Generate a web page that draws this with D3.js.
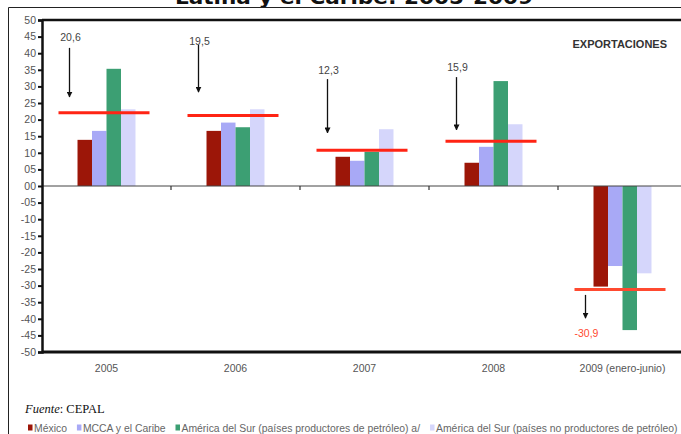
<!DOCTYPE html>
<html>
<head>
<meta charset="utf-8">
<script src="https://cdn.jsdelivr.net/npm/d3@7"></script>
<style>
  html, body { margin: 0; padding: 0; background: #fff; overflow: hidden; }
  svg { display: block; }
</style>
</head>
<body>
<svg id="chart"></svg>
<script>
// categories and series
const years = ["2005", "2006", "2007", "2008", "2009 (enero-junio)"];
const series = [
  "México",
  "MCCA y el Caribe",
  "América del Sur (países productores de petróleo) a/",
  "América del Sur (países no productores de petróleo)"
];
const mexico = [13.9, 16.6, 8.8, 7.0, -30.3];
const mcca = [16.6, 19.1, 7.6, 11.8, -24.1];
const surProd = [35.3, 17.7, 10.3, 31.6, -43.4];
const surNoProd = [23.1, 23.1, 17.1, 18.6, -26.3];

// regional total (red lines) and the arrow annotations
const totalLine = [22.1, 21.2, 10.8, 13.5, -31.2];
const totalLabel = ["20,6", "19,5", "12,3", "15,9", "-30,9"];
const arrowFrom = [41.6, 42.5, 32.2, 32.8, -32.8];
const arrowTo = [26.8, 28.3, 16.0, 16.9, -39.8];
const labelAt = [43.6, 42.4, 33.8, 34.6, -45.4];

const yTicks = d3.range(-50, 51, 5);
const colors = ["#9c1608", "#a8a9f6", "#3c9f73", "#d5d6fb"];

const W = 681, H = 434;
const svg = d3.select("#chart").attr("width", W).attr("height", H);

const plotLeft = 42, plotTop = 20, plotBottom = 352, step = 129;

const x0 = d3.scaleBand()
  .domain(years)
  .range([plotLeft, plotLeft + step * years.length])
  .padding(0);

const x1 = d3.scaleBand()
  .domain(d3.range(series.length))
  .range([0, x0.bandwidth()])
  .paddingInner(0)
  .paddingOuter(2.45);

const y = d3.scaleLinear().domain([-50, 50]).range([plotBottom, plotTop]);

const fmt = (d) => (d < 0 ? "-" : "") + String(Math.abs(d)).padStart(2, "0");

// title (cut at the top of the picture, as in the original)
svg.append("text")
  .attr("x", 175)
  .attr("y", 4)
  .attr("font-family", "DejaVu Sans")
  .attr("font-weight", "bold")
  .attr("font-size", 19)
  .attr("textLength", 358)
  .attr("lengthAdjust", "spacingAndGlyphs")
  .attr("fill", "#111")
  .text("Latina y el Caribe: 2005-2009");

// outer frame
svg.append("path")
  .attr("d", `M8.5,${H} V7.5 H${W + 5}`)
  .attr("fill", "none")
  .attr("stroke", "#222")
  .attr("stroke-width", 1);

// bars
const rows = years.map((yr, i) => ({
  year: yr,
  values: [mexico[i], mcca[i], surProd[i], surNoProd[i]]
}));

svg.append("g")
  .selectAll("g")
  .data(rows)
  .join("g")
  .attr("transform", (d) => `translate(${x0(d.year)},0)`)
  .selectAll("rect")
  .data((d) => d.values.map((v, k) => ({ v, k })))
  .join("rect")
  .attr("x", (d) => x1(d.k))
  .attr("y", (d) => y(Math.max(0, d.v)))
  .attr("width", x1.bandwidth())
  .attr("height", (d) => Math.abs(y(d.v) - y(0)))
  .attr("fill", (d) => colors[d.k]);

// zero line with category separators
svg.append("line")
  .attr("x1", plotLeft).attr("x2", W)
  .attr("y1", y(0)).attr("y2", y(0))
  .attr("stroke", "#444").attr("stroke-width", 1);

svg.append("g")
  .selectAll("line")
  .data(years.slice(1))
  .join("line")
  .attr("x1", (d) => x0(d)).attr("x2", (d) => x0(d))
  .attr("y1", y(0)).attr("y2", y(0) + 4)
  .attr("stroke", "#333").attr("stroke-width", 1.2);

// y axis
const yAxis = svg.append("g")
  .attr("transform", `translate(${plotLeft},0)`)
  .call(d3.axisLeft(y).tickValues(yTicks).tickFormat(fmt).tickSize(4).tickPadding(2));
yAxis.select(".domain").attr("stroke", "#111").attr("stroke-width", 2.5);
yAxis.selectAll(".tick line").attr("stroke", "#111").attr("stroke-width", 2);
yAxis.selectAll(".tick text")
  .attr("fill", "#555")
  .attr("font-family", "Liberation Sans, Arial, sans-serif")
  .attr("font-size", 10.5);

// top and bottom frame lines of the plot
svg.append("line")
  .attr("x1", plotLeft).attr("x2", W)
  .attr("y1", plotTop).attr("y2", plotTop)
  .attr("stroke", "#111").attr("stroke-width", 2.5);
svg.append("line")
  .attr("x1", plotLeft).attr("x2", W)
  .attr("y1", plotBottom).attr("y2", plotBottom)
  .attr("stroke", "#111").attr("stroke-width", 3);

// category labels
svg.append("g")
  .selectAll("text")
  .data(years)
  .join("text")
  .attr("x", (d) => x0(d) + x0.bandwidth() / 2)
  .attr("y", 372)
  .attr("text-anchor", "middle")
  .attr("fill", "#555")
  .attr("font-family", "Liberation Sans, Arial, sans-serif")
  .attr("font-size", 10.5)
  .text((d) => d);

// red total lines
svg.append("g")
  .selectAll("line")
  .data(years)
  .join("line")
  .attr("x1", (d) => x0(d) + x0.bandwidth() / 2 - 48)
  .attr("x2", (d) => x0(d) + x0.bandwidth() / 2 + 43)
  .attr("y1", (d, i) => y(totalLine[i]))
  .attr("y2", (d, i) => y(totalLine[i]))
  .attr("stroke", (d, i) => (i === 4 ? "#ff4a30" : "#ff2414"))
  .attr("stroke-width", 3);

// arrows
svg.append("defs").append("marker")
  .attr("id", "head")
  .attr("viewBox", "0 0 10 10")
  .attr("refX", 9).attr("refY", 5)
  .attr("markerWidth", 6).attr("markerHeight", 6)
  .attr("markerUnits", "userSpaceOnUse")
  .attr("orient", "auto")
  .append("path")
  .attr("d", "M0,0 L10,5 L0,10 Z")
  .attr("fill", "#111");

const ax = (d) => x0(d) + x0.bandwidth() / 2 - 37;

svg.append("g")
  .selectAll("line")
  .data(years)
  .join("line")
  .attr("x1", ax).attr("x2", ax)
  .attr("y1", (d, i) => y(arrowFrom[i]))
  .attr("y2", (d, i) => y(arrowTo[i]))
  .attr("stroke", "#111")
  .attr("stroke-width", 1.3)
  .attr("marker-end", "url(#head)");

svg.append("g")
  .selectAll("text")
  .data(years)
  .join("text")
  .attr("x", (d) => ax(d) + 1)
  .attr("y", (d, i) => y(labelAt[i]))
  .attr("text-anchor", "middle")
  .attr("fill", (d, i) => (i === 4 ? "#ff4a30" : "#444"))
  .attr("font-family", "Liberation Sans, Arial, sans-serif")
  .attr("font-size", 10.5)
  .text((d, i) => totalLabel[i]);

// panel title
svg.append("text")
  .attr("x", 667)
  .attr("y", 48)
  .attr("text-anchor", "end")
  .attr("fill", "#333")
  .attr("font-family", "Liberation Sans, Arial, sans-serif")
  .attr("font-weight", "bold")
  .attr("font-size", 11)
  .text("EXPORTACIONES");

// source
const src = svg.append("text")
  .attr("x", 25)
  .attr("y", 413)
  .attr("fill", "#111")
  .attr("font-family", "Liberation Serif, serif")
  .attr("font-size", 12.5);
src.append("tspan").attr("font-style", "italic").text("Fuente");
src.append("tspan").text(": CEPAL");

// legend
const legend = svg.append("g").attr("transform", "translate(28,432)");
let lx = 0;
series.forEach((name, k) => {
  const item = legend.append("g").attr("transform", `translate(${lx},0)`);
  item.append("rect")
    .attr("x", 0).attr("y", -7.5)
    .attr("width", 4.5).attr("height", 6)
    .attr("fill", colors[k]);
  const t = item.append("text")
    .attr("x", 6)
    .attr("y", 0)
    .attr("fill", "#666")
    .attr("font-family", "Liberation Sans, Arial, sans-serif")
    .attr("font-size", 10.4)
    .text(name);
  lx += 6 + t.node().getComputedTextLength() + 10;
});
</script>
</body>
</html>
